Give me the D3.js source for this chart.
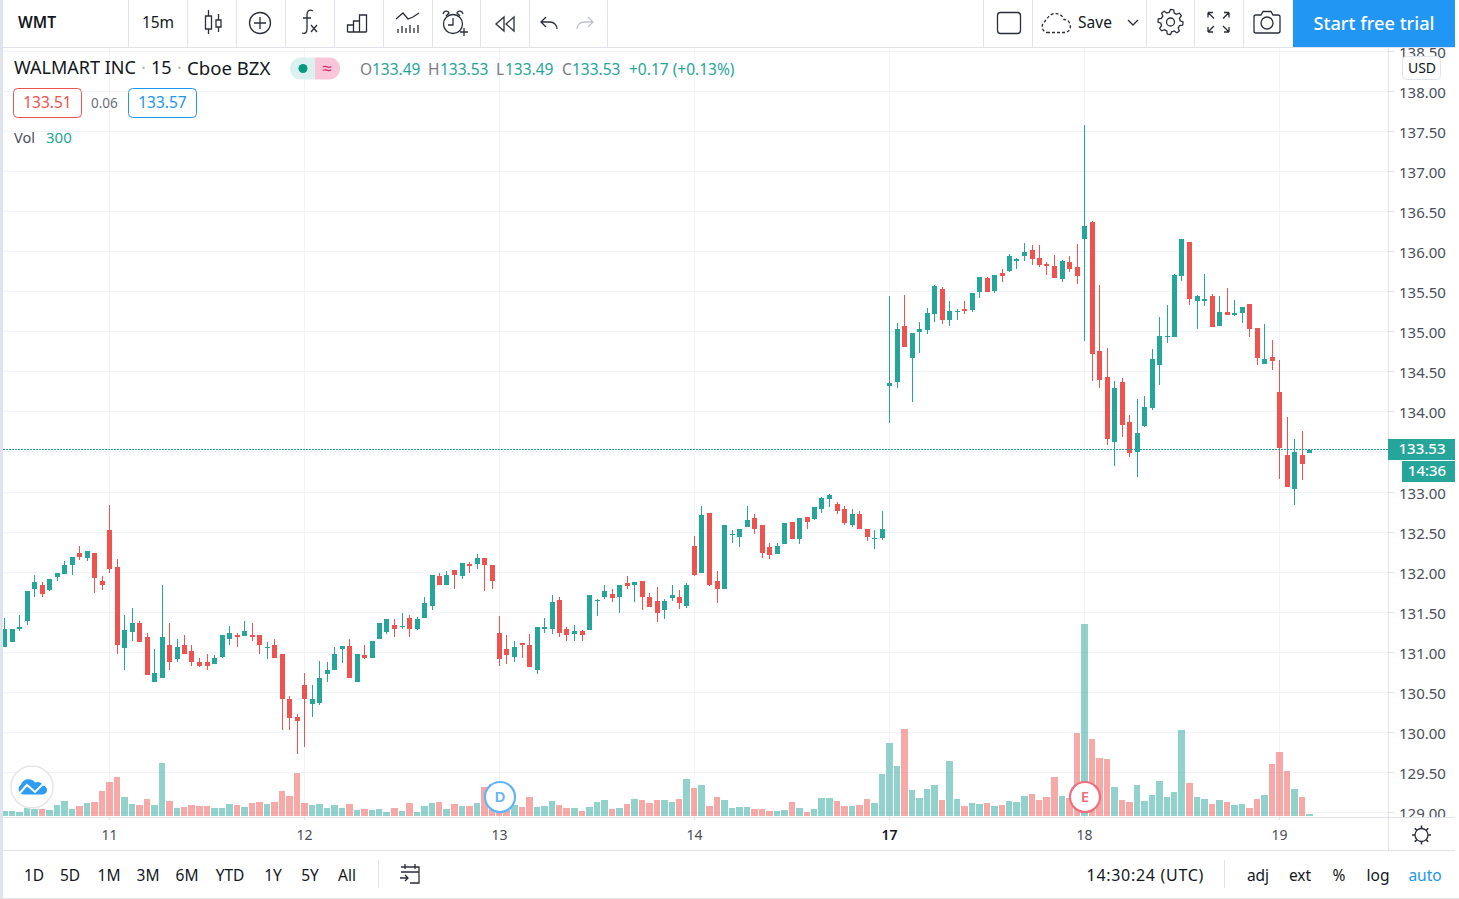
<!DOCTYPE html>
<html>
<head>
<meta charset="utf-8">
<script src="https://cdnjs.cloudflare.com/ajax/libs/d3/7.8.5/d3.min.js"></script>
<style>
  html, body { margin: 0; padding: 0; background: #fff; overflow: hidden; }
  text { font-family: "Noto Sans", sans-serif; }
  .axis path { display: none; }
</style>
</head>
<body>
<svg id="chart" width="1459" height="899"></svg>
<script>
// WMT 15m bars (26 bars per session)
const opens = [131.07,131.13,131.30,131.39,131.79,131.85,131.78,131.94,131.98,132.09,
132.24,132.18,132.24,131.89,132.53,132.07,131.06,131.26,131.37,131.19,
130.64,130.68,131.10,130.92,131.10,131.02,130.89,130.88,130.86,130.95,
131.17,131.22,131.21,131.22,131.22,131.06,131.09,130.98,130.42,130.20,
130.60,130.36,130.37,130.73,130.78,131.04,131.08,130.64,130.97,130.93,
131.17,131.26,131.34,131.32,131.43,131.30,131.43,131.58,131.96,131.85,
132.03,131.96,132.11,132.11,132.18,132.09,131.24,131.04,130.95,131.12,
131.09,130.79,131.29,131.29,131.66,131.30,131.23,131.27,131.28,131.64,
131.70,131.73,131.69,131.87,131.85,131.89,131.69,131.64,131.53,131.68,
131.70,131.58,132.33,132.00,132.74,131.89,131.80,132.47,132.45,132.57,
132.68,132.59,132.32,132.23,132.36,132.63,132.42,132.69,132.67,132.79,
132.92,132.86,132.79,132.59,132.73,132.55,132.42,132.43,
134.33,134.38,135.08,134.68,135.00,135.03,135.23,135.54,135.15,135.25,
135.29,135.28,135.50,135.68,135.52,135.74,135.77,135.89,135.95,136.03,
135.93,135.85,135.83,135.67,135.88,135.82,
136.17,136.38,134.77,134.44,133.63,134.38,133.88,133.50,133.83,134.05,
134.59,134.94,134.94,135.70,136.13,135.39,135.39,135.45,135.08,135.25,
135.22,135.24,135.35,135.05,134.60,134.69,134.25,133.47,133.04,133.47,133.49];

const highs = [131.43,131.30,131.47,131.77,131.97,131.88,131.92,131.99,132.14,132.19,
132.33,132.27,132.25,131.96,132.84,132.17,131.47,131.56,131.39,131.24,
131.04,131.85,131.37,131.17,131.22,131.10,130.94,130.99,130.97,131.22,
131.33,131.25,131.39,131.37,131.22,131.13,131.17,130.98,130.46,130.23,
130.75,130.60,130.90,130.88,131.07,131.08,131.17,130.99,131.09,131.15,
131.37,131.42,131.42,131.50,131.47,131.44,131.69,131.97,132.00,132.02,
132.03,132.12,132.13,132.23,132.18,132.09,131.46,131.22,131.14,131.12,
131.23,131.32,131.43,131.72,131.69,131.32,131.34,131.28,131.72,131.67,
131.85,131.80,131.85,131.96,131.88,131.89,131.74,131.82,131.67,131.85,
131.78,131.87,132.46,132.83,132.74,132.02,132.60,132.53,132.54,132.83,
132.73,132.60,132.37,132.37,132.62,132.63,132.68,132.69,132.82,132.94,
132.98,132.88,132.83,132.80,132.77,132.55,132.53,132.77,
135.45,135.12,135.47,134.99,135.13,135.30,135.59,135.57,135.39,135.29,
135.39,135.49,135.69,135.69,135.72,135.79,135.98,135.93,136.12,136.09,
136.09,135.88,135.97,135.90,135.95,136.10,
137.59,136.39,135.59,134.80,134.39,134.43,133.97,134.17,134.20,134.79,
135.19,135.34,135.73,136.17,136.13,135.47,135.73,135.48,135.45,135.55,
135.40,135.32,135.35,135.05,135.10,134.90,134.65,133.94,133.67,133.77,133.53];

const lows = [131.07,131.13,131.27,131.34,131.70,131.70,131.77,131.89,131.98,131.97,
132.16,132.14,131.75,131.78,132.00,130.99,130.78,131.14,131.13,130.72,
130.63,130.68,130.79,130.89,130.99,130.84,130.82,130.79,130.86,130.94,
131.10,131.07,131.21,131.15,130.99,130.92,130.94,130.03,130.04,129.73,
129.82,130.20,130.35,130.64,130.78,130.87,130.69,130.64,130.92,130.93,
131.17,131.23,131.19,131.30,131.20,131.28,131.43,131.53,131.84,131.85,
131.79,131.92,131.99,132.05,131.77,131.80,130.83,130.86,130.88,130.94,
130.82,130.73,131.25,131.23,131.19,131.15,131.15,131.15,131.28,131.46,
131.67,131.63,131.50,131.80,131.63,131.53,131.57,131.38,131.42,131.64,
131.54,131.56,131.96,132.00,131.83,131.62,131.80,132.37,132.32,132.57,
132.48,132.18,132.17,132.23,132.36,132.42,132.36,132.55,132.66,132.74,
132.82,132.73,132.60,132.57,132.54,132.39,132.29,132.41,
133.87,134.30,134.82,134.13,134.74,134.98,135.13,135.10,135.08,135.15,
135.23,135.25,135.43,135.50,135.49,135.63,135.75,135.79,135.89,135.84,
135.82,135.72,135.68,135.63,135.75,135.60,
134.89,134.39,134.30,133.59,133.33,133.69,133.44,133.19,133.82,134.03,
134.34,134.87,134.94,135.64,135.34,135.04,135.33,135.07,135.08,135.22,
135.20,135.12,134.94,134.59,134.60,134.53,133.17,133.07,132.85,133.15,133.49];

const closes = [131.30,131.30,131.32,131.77,131.88,131.73,131.92,131.99,132.09,132.19,
132.19,132.27,131.93,131.84,132.04,131.10,131.28,131.37,131.13,130.72,
130.75,131.20,130.89,131.07,130.99,130.89,130.84,130.84,130.93,131.22,
131.24,131.19,131.27,131.19,131.09,131.07,130.94,130.42,130.18,130.15,
130.42,130.42,130.68,130.79,130.98,131.08,130.69,130.99,130.94,131.15,
131.37,131.42,131.30,131.33,131.29,131.42,131.62,131.97,131.85,131.97,
131.97,132.12,132.08,132.18,132.09,131.89,130.92,130.97,131.07,131.09,
130.82,131.32,131.32,131.63,131.25,131.22,131.27,131.22,131.72,131.66,
131.77,131.68,131.85,131.83,131.88,131.70,131.57,131.49,131.64,131.72,
131.62,131.84,131.97,132.72,131.85,131.80,132.60,132.48,132.54,132.66,
132.54,132.25,132.22,132.33,132.62,132.42,132.68,132.63,132.82,132.93,
132.97,132.77,132.62,132.73,132.55,132.45,132.43,132.55,
134.37,135.04,134.82,134.99,135.04,135.24,135.58,135.15,135.27,135.27,
135.27,135.49,135.69,135.50,135.72,135.70,135.95,135.92,136.00,135.92,
135.84,135.83,135.68,135.89,135.79,135.70,
136.33,134.73,134.40,133.67,134.30,133.84,133.49,133.74,134.07,134.67,
134.95,134.95,135.72,136.17,135.42,135.45,135.42,135.07,135.25,135.22,
135.24,135.32,135.04,134.68,134.67,134.64,133.55,133.07,133.50,133.35,133.53];

const volumes = [750,750,600,1200,1050,1050,900,1650,2250,1050,
1500,1950,2100,3750,5100,5850,2850,1800,1650,2550,
1650,7950,2250,1200,1350,1650,1500,1500,1200,1200,
1800,1650,1350,1950,2100,1800,2100,3750,3000,6450,
1950,1650,1800,1200,1650,1200,1800,900,1050,900,
1050,600,1200,750,1950,600,1500,1950,2100,1050,
1800,1500,1500,1950,4350,4800,1900,1150,1650,1350,
2850,1350,1500,2250,1650,1200,1200,750,1350,2100,
2400,1050,1200,1800,2550,2400,1950,2400,2400,2100,
2550,5550,4200,4650,1500,2850,2400,1200,1350,1350,
1050,1050,750,750,900,2100,1200,600,1050,2700,
2700,2250,1500,1500,1650,2550,1950,6300,
10950,7500,13050,3900,2700,4050,4650,2400,8250,2550,
1500,1950,1800,1950,1500,1650,2250,2100,3000,3300,
2400,2850,5850,3000,2700,12450,
28800,11550,8700,8550,4350,2400,2100,4650,2250,3150,
5250,2850,3600,12900,4950,2850,2550,1800,2400,2100,
1650,1800,1200,2550,3150,7800,9600,6750,4050,2850,300];

const priceTicks = [129,129.5,130,130.5,131,131.5,132,132.5,133,133.5,134,134.5,135,135.5,136,136.5,137,137.5,138,138.5];
const dayIndex = [14,40,66,92,118,144,170];
const dayLabels = ["11","12","13","14","17","18","19"];
const rangeButtons = ["1D","5D","1M","3M","6M","YTD","1Y","5Y","All"];
const rangeCenters = [34,70,109,148,187,230,273,310,347];

const green = "#26a69a", red = "#ef5350", grid = "#f0f3fa", border = "#e0e3eb", textDark = "#131722", axisText = "#4a4e5a", iconInk = "#2a2e39";

const svg = d3.select("#chart");
const paneL = 3, paneR = 1388, paneT = 48, paneB = 817;

const x = d3.scaleLinear().domain([0, 174]).range([4.5, 4.5 + 174 * 7.5]);
const y = d3.scaleLinear().domain([133, 138]).range([492.5, 92]);
const yVol = d3.scaleLinear().domain([0, 28800]).range([816, 624]);
const col = i => Math.floor(x(i));
const snapY = d => Math.round(y(d)) - 0.5;

svg.append("clipPath").attr("id", "paneClip").append("rect")
  .attr("x", paneL).attr("y", paneT).attr("width", paneR - paneL).attr("height", paneB - paneT);
svg.append("clipPath").attr("id", "axisClip").append("rect")
  .attr("x", paneR).attr("y", paneT).attr("width", 67).attr("height", paneB - paneT);

const pane = svg.append("g").attr("clip-path", "url(#paneClip)");

// gridlines
pane.append("g").selectAll("line").data(priceTicks).join("line")
  .attr("x1", paneL).attr("x2", paneR)
  .attr("y1", snapY).attr("y2", snapY)
  .attr("stroke", grid);
pane.append("g").selectAll("line").data(dayIndex).join("line")
  .attr("x1", d => col(d) + 0.5).attr("x2", d => col(d) + 0.5)
  .attr("y1", paneT).attr("y2", paneB)
  .attr("stroke", grid);

const idx = d3.range(opens.length);
const barColor = i => closes[i] >= opens[i] ? green : red;

// volume
pane.append("g").selectAll("rect").data(idx).join("rect")
  .attr("x", i => col(i) - 3)
  .attr("width", i => (i < idx.length - 1 ? col(i + 1) - col(i) - 1 : 7))
  .attr("y", i => Math.round(yVol(volumes[i])))
  .attr("height", i => 816 - Math.round(yVol(volumes[i])))
  .attr("fill", barColor).attr("opacity", 0.5);

// candles
const candles = pane.append("g").selectAll("g").data(idx).join("g").attr("fill", barColor);
candles.append("rect")
  .attr("x", i => col(i)).attr("width", 1)
  .attr("y", i => Math.round(y(highs[i])))
  .attr("height", i => Math.round(y(lows[i])) - Math.round(y(highs[i])));
candles.append("rect")
  .attr("x", i => col(i) - 2).attr("width", 5)
  .attr("y", i => Math.round(y(Math.max(opens[i], closes[i]))))
  .attr("height", i => Math.max(1, Math.round(y(Math.min(opens[i], closes[i]))) - Math.round(y(Math.max(opens[i], closes[i])))));

// last price line
const last = closes[closes.length - 1];
pane.append("line")
  .attr("x1", paneL).attr("x2", paneR)
  .attr("y1", snapY(last)).attr("y2", snapY(last))
  .attr("stroke", green).attr("stroke-dasharray", "2,1");

// price axis
const priceAxis = d3.axisRight(y).tickValues(priceTicks).tickFormat(d3.format(".2f")).tickSize(6).tickPadding(5);
const pa = svg.append("g").attr("clip-path", "url(#axisClip)").append("g").attr("class", "axis")
  .attr("transform", `translate(${paneR},0)`).call(priceAxis);
pa.selectAll(".tick").attr("transform", d => `translate(0,${snapY(d)})`);
pa.selectAll("line").attr("stroke", border).attr("x1", 0.5);
pa.selectAll("text").attr("font-size", 15).attr("fill", axisText).attr("dy", "0.46em");

// time axis
const timeAxis = d3.axisBottom(x).tickValues(dayIndex).tickFormat((d, i) => dayLabels[i]).tickSize(3).tickPadding(10).offset(0);
const ta = svg.append("g").attr("class", "axis").attr("transform", `translate(0,${paneB})`).call(timeAxis);
ta.selectAll("line").attr("stroke", border);
ta.selectAll("text").attr("font-size", 14).attr("fill", axisText);
ta.selectAll("text").filter((d, i) => dayLabels[i] === "17").attr("fill", textDark).attr("font-weight", 600);

// frame lines
const hline = (x1, x2, yy, c) => svg.append("line").attr("x1", x1).attr("x2", x2).attr("y1", yy).attr("y2", yy).attr("stroke", c || border);
const vline = (xx, y1, y2, c) => svg.append("line").attr("x1", xx).attr("x2", xx).attr("y1", y1).attr("y2", y2).attr("stroke", c || border);
svg.append("rect").attr("x", 0).attr("y", 0).attr("width", 3).attr("height", 899).attr("fill", border);
svg.append("rect").attr("x", 3).attr("y", 0).attr("width", 1452).attr("height", 47).attr("fill", "#fff");
hline(3, 1455, 47.5);
vline(paneR + 0.5, paneT, 850);
hline(3, 1455, 817.5);
hline(3, 1455, 850.5);
hline(0, 1459, 898.5);

// tag labels on the price scale
const tag = (tx, ty, tw, th, label, tcx) => {
  svg.append("rect").attr("x", tx).attr("y", ty).attr("width", tw).attr("height", th).attr("fill", green);
  svg.append("text").attr("x", tcx).attr("y", ty + th / 2 - 0.7).attr("dy", "0.36em").attr("text-anchor", "middle")
    .attr("font-size", 15).attr("font-weight", 500).attr("fill", "#fff").text(label);
};
tag(1388, 439, 67, 21, d3.format(".2f")(last), 1422);
tag(1402, 461, 53, 21, "14:36", 1427);

// USD box
svg.append("rect").attr("x", 1402.5).attr("y", 56.5).attr("width", 38).attr("height", 23).attr("rx", 4)
  .attr("fill", "#fff").attr("stroke", border);
svg.append("text").attr("x", 1422).attr("y", 68).attr("dy", "0.36em").attr("text-anchor", "middle")
  .attr("font-size", 14).attr("fill", textDark).text("USD");

// legend
const label = (tx, ty, s, o = {}) => svg.append("text").attr("x", tx).attr("y", ty).attr("dy", "0.36em")
  .attr("text-anchor", o.anchor || "start").attr("font-size", o.size || 14)
  .attr("fill", o.fill || textDark).attr("font-weight", o.weight || 400).text(s);

label(14, 68, "WALMART INC", { size: 18 });
label(141, 68, "·", { size: 18, fill: "#b2b5be" });
label(151, 68, "15", { size: 18 });
label(177, 68, "·", { size: 18, fill: "#b2b5be" });
label(187, 68, "Cboe BZX", { size: 18.6 });

svg.append("path").attr("d", "M315 57.5H301a11 11 0 0 0 0 22H315Z").attr("fill", "#dcf1ef");
svg.append("path").attr("d", "M315 57.5H329a11 11 0 0 1 0 22H315Z").attr("fill", "#f9c5d9");
svg.append("circle").attr("cx", 303).attr("cy", 68.5).attr("r", 4.5).attr("fill", "#089981");
label(327, 68, "≈", { size: 17, fill: "#d81b60", anchor: "middle" });

const ohlcLetters = ["O", "H", "L", "C"];
const ohlcLast = [opens, highs, lows, closes].map(a => a[a.length - 1]);
const ohlcX = [360, 428, 496, 562];
const ohlcNumX = [372, 440, 505, 572];
ohlcLetters.forEach((s, i) => {
  label(ohlcX[i], 69, s, { size: 15.5, fill: "#787b86" });
  label(ohlcNumX[i], 69, d3.format(".2f")(ohlcLast[i]), { size: 15.5, fill: green });
});
label(629, 69, "+0.17 (+0.13%)", { size: 15.5, fill: green });

const quote = (bx, s, c) => {
  svg.append("rect").attr("x", bx + 0.5).attr("y", 88.5).attr("width", 68).attr("height", 29).attr("rx", 4)
    .attr("fill", "#fff").attr("stroke", c);
  label(bx + 34.5, 102.5, s, { size: 15.5, fill: c, anchor: "middle" });
};
quote(13, "133.51", red);
label(91, 103, "0.06", { size: 13.5, fill: "#6a6d78" });
quote(128, "133.57", "#2196f3");
label(14, 137.5, "Vol", { size: 14.5, fill: "#4a4e5a" });
label(46, 137.5, "300", { size: 15, fill: green });

// markers and logo
const marker = (cx, s, c) => {
  svg.append("circle").attr("cx", cx).attr("cy", 797).attr("r", 15).attr("fill", "#fff").attr("stroke", c).attr("stroke-width", 2.2);
  label(cx, 797, s, { size: 15, fill: c, anchor: "middle", weight: 600 });
};
marker(500, "D", "#64b5f6");
marker(1085, "E", "#ef6f7d");

svg.append("circle").attr("cx", 32).attr("cy", 787).attr("r", 21).attr("fill", "#fff").attr("stroke", "#e6e6e6").attr("stroke-width", 1.5);
svg.append("path").attr("d", "M24 794.5H42a4.5 4.5 0 0 0 1 -9a6 6 0 0 0 -8 -3a8 8 0 0 0 -14 2a5.5 5.5 0 0 0 3 10Z").attr("fill", "#2e9cf0");
svg.append("path").attr("d", "M19 794l8 -9l8 7l8 -8").attr("fill", "none").attr("stroke", "#fff").attr("stroke-width", 2);

// toolbar
[128, 187, 236, 285, 334, 383, 432, 480, 529, 607, 983, 1032, 1146, 1194, 1243].forEach(d => vline(d + 0.5, 0, 47));
label(18, 22.5, "WMT", { size: 15.5, weight: 600 });
label(158, 22.5, "15m", { size: 15.5, anchor: "middle" });
label(1095, 22.5, "Save", { size: 15.5, anchor: "middle" });

const icon = (d, c, sw) => svg.append("path").attr("d", d).attr("fill", "none").attr("stroke", c || iconInk).attr("stroke-width", sw || 1.3);
const ring = (cx, cy, r) => svg.append("circle").attr("cx", cx).attr("cy", cy).attr("r", r).attr("fill", "none").attr("stroke", iconInk).attr("stroke-width", 1.3);

icon("M208.5 10v6M208.5 29v5M205.5 16h6v13h-6ZM218.5 14v6M218.5 27v5M216 20h5v7h-5Z");
ring(260, 23, 10.5);
icon("M260 17v12M254 23h12");
icon("M313 11c-4 -2 -6 0 -6 4v14c0 4 -2 5 -5 4M303 18h8M311 25l6 7M317 25l-6 7");
icon("M347.5 32v-7h6v7M353.5 32v-11h6v11M359.5 32v-17h7v17M347.5 32h19");
icon("M396 19l7 -6l5 6l5 -2l6 -4M398 33v-4M402 33v-7M406 33v-5M410 33v-8M414 33v-5M418 33v-8");
ring(453, 24, 9.5);
icon("M446 16l3 -3a3 3 0 0 0 -5 -1l-1 2M460 16l-3 -3a3 3 0 0 1 5 -1l1 2M453 18v7h-5M460 32h8M464 28v8");
icon("M504 17l-8 7l8 7ZM514 17l-8 7l8 7Z");
icon("M546 17l-5 5l5 5M541 22h9a7 7 0 0 1 7 7");
icon("M588 17l5 5l-5 5M593 22h-9a7 7 0 0 0 -7 7", "#c1c4cd");
svg.append("rect").attr("x", 997.5).attr("y", 12.5).attr("width", 23).attr("height", 21).attr("rx", 3).attr("fill", "none").attr("stroke", iconInk).attr("stroke-width", 1.3);
icon("M1047 32.5h18a6 6 0 0 0 5 -8a6 6 0 0 0 -6 -5a9 9 0 0 0 -16 -2a9 9 0 0 0 -3 4a6 6 0 0 0 2 11Z").attr("stroke-dasharray", "3,2");
icon("M1128 20l5 5l5 -5");

// gear outline: 8 teeth around a ring
const gear = (cx, cy, r, inner) => {
  const pts = d3.range(48).map(k => [k * Math.PI / 24, k % 6 < 3 ? r : r - 2.8]);
  icon(d3.lineRadial().curve(d3.curveLinearClosed)(pts)).attr("transform", `translate(${cx},${cy})`);
  ring(cx, cy, inner);
};
gear(1170.5, 22, 12.5, 4);
icon("M1208 12.5h5M1208 12.5v5M1208 12.5l6 6M1229 12.5h-5M1229 12.5v5M1229 12.5l-6 6M1208 32h5M1208 32v-5M1208 32l6 -6M1229 32h-5M1229 32v-5M1229 32l-6 -6");
icon("M1256 15h5l2 -3.5h8l2 3.5h5a2 2 0 0 1 2 2v14a2 2 0 0 1 -2 2h-22a2 2 0 0 1 -2 -2v-14a2 2 0 0 1 2 -2Z");
ring(1267, 23, 6);

svg.append("rect").attr("x", 1293).attr("y", 0).attr("width", 162).attr("height", 47).attr("fill", "#2196f3");
label(1374, 23, "Start free trial", { size: 18.2, fill: "#fff", anchor: "middle", weight: 500 });

// settings sun on the time scale
ring(1421.5, 835, 6.5);
icon(d3.range(8).map(k => {
  const a = k * Math.PI / 4;
  return `M${1421.5 + 6.5 * Math.cos(a)} ${835 + 6.5 * Math.sin(a)}L${1421.5 + 9.5 * Math.cos(a)} ${835 + 9.5 * Math.sin(a)}`;
}).join(""), iconInk, 1.6);

// bottom bar
rangeButtons.forEach((s, i) => label(rangeCenters[i], 875, s, { size: 15.5, anchor: "middle" }));
vline(378.5, 860, 888);
vline(1224.5, 860, 888);
icon("M401 867h18v16h-9M405 864v5M415 864v5M401 872h18M400 878h8M405 875l3 3l-3 3");
label(1204, 875, "14:30:24 (UTC)", { size: 16, anchor: "end" }).attr("letter-spacing", 0.7);
label(1258, 875, "adj", { size: 15.5, anchor: "middle" });
label(1300, 875, "ext", { size: 15.5, anchor: "middle" });
label(1339, 875, "%", { size: 15.5, anchor: "middle" });
label(1378, 875, "log", { size: 15.5, anchor: "middle" });
label(1425, 875, "auto", { size: 15.5, anchor: "middle", fill: "#2196f3" });
</script>
</body>
</html>
